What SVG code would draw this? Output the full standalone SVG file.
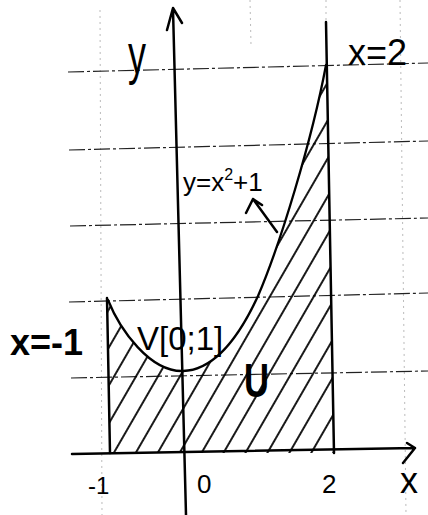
<svg xmlns="http://www.w3.org/2000/svg" width="428" height="515" viewBox="0 0 428 515">
<style>
.grid{stroke:#222;stroke-width:1.2;stroke-dasharray:16 3 3 3;fill:none}
.vgrid{stroke:#bbb;stroke-width:1;stroke-dasharray:2 4;fill:none}
.ax{stroke:#000;stroke-width:2.5;fill:none;stroke-linecap:round;stroke-linejoin:round}
.crv{stroke:#000;stroke-width:2.3;fill:none;stroke-linecap:round}
.t{font-family:"Liberation Sans","DejaVu Sans",sans-serif;fill:#000}
</style>
<defs>
<pattern id="hatch" width="19" height="19" patternUnits="userSpaceOnUse" patternTransform="rotate(30)">
<line x1="2" y1="0" x2="2" y2="19" stroke="#000" stroke-width="1.8"/>
</pattern>
<clipPath id="area">
<path d="M108,300 C120,330 150,372 183,371 C215,370 240,335 258,296 C280,245 312,140 326,65 L334,453 L110,453 Z"/>
</clipPath>
</defs>
<g id="grid">
<line class="vgrid" x1="100" y1="10" x2="102" y2="515"/>
<line class="vgrid" x1="250" y1="0" x2="251" y2="45"/>
<line class="vgrid" x1="326" y1="0" x2="326" y2="20"/>
<line class="vgrid" x1="400" y1="0" x2="406" y2="515"/>
<line class="grid" x1="68" y1="72" x2="428" y2="63"/>
<line class="grid" x1="69" y1="150" x2="428" y2="141"/>
<line class="grid" x1="70" y1="226" x2="428" y2="218"/>
<line class="grid" x1="69" y1="302" x2="428" y2="293"/>
<line class="grid" x1="71" y1="378" x2="428" y2="371"/>
</g>
<g id="region-U">
<rect x="100" y="60" width="240" height="400" fill="url(#hatch)" clip-path="url(#area)"/>
</g>
<g id="connectors">
<path id="y-axis" class="ax" d="M173,9 L186,515 M167,30 L173,8 L182,23"/>
<path id="x-axis" class="ax" d="M72,454 L415,448 M407,443 L415,448 L403,463"/>
<path id="line-x2" class="ax" d="M326,22 L334,453"/>
<path id="line-xm1" class="ax" d="M107,298 L110,453"/>
<path id="curve" class="crv" d="M108,300 C120,330 150,372 183,371 C215,370 240,335 258,296 C280,245 312,140 326,65"/>
<path id="curve-pointer" class="ax" d="M277,232 L253,199 M246,213 L253,199 L262,205"/>
</g>
<g id="labels">
<text class="t" x="128" y="73" font-size="56" textLength="18" lengthAdjust="spacingAndGlyphs">y</text>
<text class="t" x="348" y="65" font-size="36">x=2</text>
<text class="t" x="183" y="191" font-size="26">y=x<tspan font-size="16" dy="-11">2</tspan><tspan dy="11">+1</tspan></text>
<text class="t" x="10" y="355" font-size="36" font-weight="bold">x=-1</text>
<text class="t" x="137" y="350" font-size="33">V[0;1]</text>
<text class="t" x="244" y="397" font-size="48" font-weight="bold" textLength="25" lengthAdjust="spacingAndGlyphs">U</text>
<text class="t" x="88" y="494" font-size="24">-1</text>
<text class="t" x="197" y="493" font-size="26">0</text>
<text class="t" x="322" y="493" font-size="26">2</text>
<text class="t" x="400" y="493" font-size="36">x</text>
</g>
</svg>
